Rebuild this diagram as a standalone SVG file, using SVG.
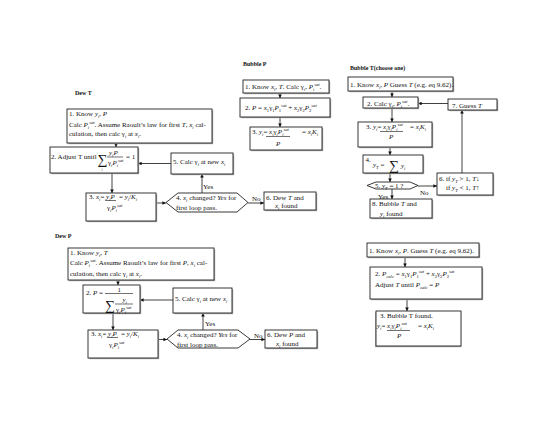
<svg xmlns="http://www.w3.org/2000/svg" width="550" height="425" viewBox="0 0 550 425">
<style>
text{font-family:"Liberation Serif","Times New Roman",serif;font-size:7px;fill:#111}
.ttl{font-weight:bold;font-size:6px}
.i{font-style:italic}
.sb{font-size:4.6px;baseline-shift:-1.5px}
.sp{font-size:4.6px;baseline-shift:2.8px}
.big{font-size:14px}
.box{fill:#fff;stroke:#222;stroke-width:0.9}
.sh{fill:#aaa;stroke:none}
.bar{stroke:#111;stroke-width:0.6}
.c{fill:none;stroke:#111;stroke-width:0.8;marker-end:url(#ah)}
</style>
<defs>
<marker id="ah" viewBox="0 0 6 6" refX="6" refY="3" markerWidth="3.6" markerHeight="3.6" markerUnits="userSpaceOnUse" orient="auto">
<path d="M0,0 L6,3 L0,6 z" fill="#111"/>
</marker>
</defs>
<rect width="550" height="425" fill="#fff"/>

<!-- titles -->
<text class="ttl" x="75" y="95">Dew T</text>
<text class="ttl" x="243" y="66">Bubble P</text>
<text class="ttl" x="350" y="70">Bubble T(choose one)</text>
<text class="ttl" x="55" y="237.5">Dew P</text>

<!-- connectors -->
<g id="connectors">
<path class="c" d="M116,143 V147"/>
<path class="c" d="M171,163.5 H138"/>
<path class="c" d="M112,173 V193"/>
<path class="c" d="M156,203 H166"/>
<path class="c" d="M202,193 V174"/>
<path class="c" d="M248,203 H264"/>
<path class="c" d="M280,93 V98"/>
<path class="c" d="M280,117 V127"/>
<path class="c" d="M392,91 V97"/>
<path class="c" d="M448,103.5 H418"/>
<path class="c" d="M392,108 V122"/>
<path class="c" d="M390,147 V155"/>
<path class="c" d="M390,173 V182"/>
<path class="c" d="M418,186 H437"/>
<path class="c" d="M462,173 V110"/>
<path class="c" d="M392,189 V199"/>
<path class="c" d="M118,280 V285"/>
<path class="c" d="M173,300 H140"/>
<path class="c" d="M113,313 V330"/>
<path class="c" d="M158,339.5 H167"/>
<path class="c" d="M203,330 V313"/>
<path class="c" d="M250,339.5 H265"/>
<path class="c" d="M405,257 V267"/>
<path class="c" d="M407,299 V311"/>
<text x="203" y="188.5">Yes</text>
<text x="252" y="200.5">No</text>
<text x="420" y="194.5">No</text>
<text x="378" y="199">Yes</text>
<text x="205" y="325.5">Yes</text>
<text x="254" y="337.5">No</text>
</g>

<!-- Dew T -->
<g id="dewT1">
<rect class="sh" x="68.2" y="110.2" width="145" height="34"/>
<rect class="box" x="67" y="109" width="145" height="34"/>
<text x="69" y="116">1. Know <tspan class="i">y</tspan><tspan class="sb i">i</tspan>, <tspan class="i">P</tspan></text>
<text x="69" y="126.5">Calc <tspan class="i">P</tspan><tspan class="sb i">i</tspan><tspan class="sp i">sat</tspan>. Assume Raoult’s law for first <tspan class="i">T</tspan>, <tspan class="i">x</tspan><tspan class="sb i">i</tspan> cal-</text>
<text x="69" y="136">culation, then calc γ<tspan class="sb i">i</tspan> at <tspan class="i">x</tspan><tspan class="sb i">i</tspan>.</text>
</g>
<g id="dewT2">
<rect class="sh" x="51.2" y="148.2" width="88" height="26"/>
<rect class="box" x="50" y="147" width="88" height="26"/>
<text x="51" y="158.5">2. Adjust T until</text>
<text class="big" x="97.5" y="164">∑</text>
<text x="101.5" y="170.5" style="font-size:3.5px" class="i">i</text>
<text x="109" y="154.5"><tspan class="i">y</tspan><tspan class="sb i">i</tspan><tspan class="i">P</tspan></text>
<line class="bar" x1="107" y1="157" x2="123" y2="157"/>
<text x="108" y="164.5">γ<tspan class="sb i">i</tspan><tspan class="i">P</tspan><tspan class="sb i">i</tspan><tspan class="sp i">sat</tspan></text>
<text x="126" y="158.5">= 1</text>
</g>
<g id="dewT5">
<rect class="sh" x="172.2" y="154.2" width="62" height="21"/>
<rect class="box" x="171" y="153" width="62" height="21"/>
<text x="173" y="163.5">5.  Calc γ<tspan class="sb i">i</tspan> at new <tspan class="i">x</tspan><tspan class="sb i">i</tspan></text>
</g>
<g id="dewT3">
<rect class="sh" x="87.2" y="194.2" width="70" height="28"/>
<rect class="box" x="86" y="193" width="70" height="28"/>
<text x="89" y="198.5">3. <tspan class="i">x</tspan><tspan class="sb i">i</tspan>= <tspan class="i">y</tspan><tspan class="sb i">i</tspan><tspan class="i">P</tspan></text>
<text x="119" y="198.5">= <tspan class="i">y</tspan><tspan class="sb i">i</tspan>/<tspan class="i">K</tspan><tspan class="sb i">i</tspan></text>
<line class="bar" x1="105" y1="200.5" x2="116" y2="200.5"/>
<text x="107" y="209.5">γ<tspan class="sb i">i</tspan><tspan class="i">P</tspan><tspan class="sb i">i</tspan><tspan class="sp i">sat</tspan></text>
</g>
<g id="dewT4">
<polygon class="box" points="166,202.5 178,193 237,193 248,202.5 237,212 178,212"/>
<text x="176" y="199.5">4. <tspan class="i">x</tspan><tspan class="sb i">i</tspan> changed? <tspan class="i">Yes</tspan> for</text>
<text x="176" y="210">first loop pass.</text>
</g>
<g id="dewT6">
<rect class="sh" x="265.2" y="193.2" width="52" height="18"/>
<rect class="box" x="264" y="192" width="52" height="18"/>
<text x="266" y="199.5">6. Dew <tspan class="i">T</tspan> and</text>
<text x="275" y="207.5"><tspan class="i">x</tspan><tspan class="sb i">i</tspan> found</text>
</g>

<!-- Bubble P -->
<g id="bubP1">
<rect class="sh" x="244.2" y="81.2" width="86" height="13"/>
<rect class="box" x="243" y="80" width="86" height="13"/>
<text x="245" y="89">1. Know <tspan class="i">x</tspan><tspan class="sb i">i</tspan>, <tspan class="i">T</tspan>. Calc γ<tspan class="sb i">i</tspan>, <tspan class="i">P</tspan><tspan class="sb i">i</tspan><tspan class="sp i">sat</tspan>.</text>
</g>
<g id="bubP2">
<rect class="sh" x="241.2" y="99.2" width="90" height="19"/>
<rect class="box" x="240" y="98" width="90" height="19"/>
<text x="245" y="109.5">2. <tspan class="i">P</tspan> = <tspan class="i">x</tspan><tspan class="sb">1</tspan>γ<tspan class="sb">1</tspan><tspan class="i">P</tspan><tspan class="sb">1</tspan><tspan class="sp i">sat</tspan> + <tspan class="i">x</tspan><tspan class="sb">2</tspan>γ<tspan class="sb">2</tspan><tspan class="i">P</tspan><tspan class="sb">2</tspan><tspan class="sp i">sat</tspan></text>
</g>
<g id="bubP3">
<rect class="sh" x="251.2" y="128.2" width="72" height="23"/>
<rect class="box" x="250" y="127" width="72" height="23"/>
<text x="252" y="133.5">3. <tspan class="i">y</tspan><tspan class="sb i">i</tspan>= <tspan class="i">x</tspan><tspan class="sb i">i</tspan>γ<tspan class="sb i">i</tspan><tspan class="i">P</tspan><tspan class="sb i">i</tspan><tspan class="sp i">sat</tspan></text>
<text x="302" y="133.5">= <tspan class="i">x</tspan><tspan class="sb i">i</tspan><tspan class="i">K</tspan><tspan class="sb i">i</tspan></text>
<line class="bar" x1="266" y1="136.5" x2="290" y2="136.5"/>
<text x="276" y="146" class="i">P</text>
</g>

<!-- Bubble T -->
<g id="bubT1">
<rect class="sh" x="349.2" y="78.2" width="105" height="14"/>
<rect class="box" x="348" y="77" width="105" height="14"/>
<text x="350" y="86.5">1. Know <tspan class="i">x</tspan><tspan class="sb i">i</tspan>, <tspan class="i">P</tspan> Guess <tspan class="i">T</tspan> (e.g. eq 9.62).</text>
</g>
<g id="bubT2">
<rect class="sh" x="364.2" y="98.2" width="55" height="11"/>
<rect class="box" x="363" y="97" width="55" height="11"/>
<text x="367" y="105.5">2. Calc γ<tspan class="sb i">i</tspan>, <tspan class="i">P</tspan><tspan class="sb i">i</tspan><tspan class="sp i">sat</tspan>.</text>
</g>
<g id="bubT7">
<rect class="sh" x="449.2" y="100.2" width="49" height="11"/>
<rect class="box" x="448" y="99" width="49" height="11"/>
<text x="452" y="107.5">7. Guess <tspan class="i">T</tspan></text>
</g>
<g id="bubT3">
<rect class="sh" x="359.2" y="123.2" width="74" height="25"/>
<rect class="box" x="358" y="122" width="74" height="25"/>
<text x="366" y="128.5">3. <tspan class="i">y</tspan><tspan class="sb i">i</tspan>= <tspan class="i">x</tspan><tspan class="sb i">i</tspan>γ<tspan class="sb i">i</tspan><tspan class="i">P</tspan><tspan class="sb i">i</tspan><tspan class="sp i">sat</tspan></text>
<text x="410" y="128.5">= <tspan class="i">x</tspan><tspan class="sb i">i</tspan><tspan class="i">K</tspan><tspan class="sb i">i</tspan></text>
<line class="bar" x1="380" y1="131.5" x2="403" y2="131.5"/>
<text x="389" y="139" class="i">P</text>
</g>
<g id="bubT4">
<rect class="sh" x="364.2" y="156.2" width="60" height="18"/>
<rect class="box" x="363" y="155" width="60" height="18"/>
<text x="365.5" y="162">4.</text>
<text x="373" y="167"><tspan class="i">y</tspan><tspan class="sb i">T</tspan> =</text>
<text class="big" x="389" y="169.5">∑</text>
<text x="401" y="167.5"><tspan class="i">y</tspan><tspan class="sb i">i</tspan></text>
</g>
<g id="bubT5">
<polygon class="box" points="367,185.5 376,182 410,182 418,185.5 410,189 376,189"/>
<text x="375" y="187.8">5. <tspan class="i">y</tspan><tspan class="sb i">T</tspan> = 1 ?</text>
</g>
<g id="bubT6">
<rect class="sh" x="438.2" y="174.2" width="56" height="22"/>
<rect class="box" x="437" y="173" width="56" height="22"/>
<text x="439" y="180.5">6. if <tspan class="i">y</tspan><tspan class="sb i">T</tspan> &gt; 1, <tspan class="i">T</tspan>↓</text>
<text x="446" y="190">if <tspan class="i">y</tspan><tspan class="sb i">T</tspan> &lt; 1, <tspan class="i">T</tspan>↑</text>
</g>
<g id="bubT8">
<rect class="sh" x="371.2" y="200.2" width="62" height="19"/>
<rect class="box" x="370" y="199" width="62" height="19"/>
<text x="372" y="205.5">8. Bubble <tspan class="i">T</tspan> and</text>
<text x="380" y="215.5"><tspan class="i">y</tspan><tspan class="sb i">i</tspan> found</text>
</g>

<!-- Dew P -->
<g id="dewP1">
<rect class="sh" x="69.2" y="249.2" width="146" height="32"/>
<rect class="box" x="68" y="248" width="146" height="32"/>
<text x="70" y="254.5">1. Know <tspan class="i">y</tspan><tspan class="sb i">i</tspan>, <tspan class="i">T</tspan></text>
<text x="70" y="265">Calc <tspan class="i">P</tspan><tspan class="sb i">i</tspan><tspan class="sp i">sat</tspan>. Assume Raoult’s law for first <tspan class="i">P</tspan>, <tspan class="i">x</tspan><tspan class="sb i">i</tspan> cal-</text>
<text x="70" y="275.5">culation, then calc γ<tspan class="sb i">i</tspan> at <tspan class="i">x</tspan><tspan class="sb i">i</tspan>.</text>
</g>
<g id="dewP2">
<rect class="sh" x="84.2" y="286.2" width="57" height="28"/>
<rect class="box" x="83" y="285" width="57" height="28"/>
<text x="86" y="294.5">2. <tspan class="i">P</tspan> =</text>
<text x="117.5" y="291.8">1</text>
<line class="bar" x1="105" y1="293.5" x2="133" y2="293.5"/>
<text class="big" x="105" y="310">∑</text>
<text x="109.5" y="312.5" style="font-size:3.3px" class="i">i</text>
<text x="122.5" y="302"><tspan class="i">y</tspan><tspan class="sb i">i</tspan></text>
<line class="bar" x1="115" y1="304" x2="133" y2="304"/>
<text x="116" y="311.5">γ<tspan class="sb i">i</tspan><tspan class="i">P</tspan><tspan class="sb i">i</tspan><tspan class="sp i">sat</tspan></text>
</g>
<g id="dewP5">
<rect class="sh" x="174.2" y="289.2" width="59" height="25"/>
<rect class="box" x="173" y="288" width="59" height="25"/>
<text x="175" y="300.5">5.  Calc γ<tspan class="sb i">i</tspan> at new <tspan class="i">x</tspan><tspan class="sb i">i</tspan></text>
</g>
<g id="dewP3">
<rect class="sh" x="89.2" y="331.2" width="70" height="28"/>
<rect class="box" x="88" y="330" width="70" height="28"/>
<text x="91" y="335.5">3. <tspan class="i">x</tspan><tspan class="sb i">i</tspan>= <tspan class="i">y</tspan><tspan class="sb i">i</tspan><tspan class="i">P</tspan></text>
<text x="121" y="335.5">= <tspan class="i">y</tspan><tspan class="sb i">i</tspan>/<tspan class="i">K</tspan><tspan class="sb i">i</tspan></text>
<line class="bar" x1="107" y1="337.5" x2="118" y2="337.5"/>
<text x="109" y="346.5">γ<tspan class="sb i">i</tspan><tspan class="i">P</tspan><tspan class="sb i">i</tspan><tspan class="sp i">sat</tspan></text>
</g>
<g id="dewP4">
<polygon class="box" points="167,339 178,330 238,330 250,339 238,348 178,348"/>
<text x="177" y="336.5">4. <tspan class="i">x</tspan><tspan class="sb i">i</tspan> changed? <tspan class="i">Yes</tspan> for</text>
<text x="177" y="346.5">first loop pass.</text>
</g>
<g id="dewP6">
<rect class="sh" x="266.2" y="331.2" width="52" height="18"/>
<rect class="box" x="265" y="330" width="52" height="18"/>
<text x="267" y="337">6. Dew <tspan class="i">P</tspan> and</text>
<text x="276" y="345.5"><tspan class="i">x</tspan><tspan class="sb i">i</tspan> found</text>
</g>

<!-- Bubble T (second) -->
<g id="bubTb1">
<rect class="sh" x="368.2" y="244.2" width="112" height="14"/>
<rect class="box" x="367" y="243" width="112" height="14"/>
<text x="369" y="252.5">1. Know <tspan class="i">x</tspan><tspan class="sb i">i</tspan>, <tspan class="i">P</tspan>. Guess <tspan class="i">T</tspan> (e.g. eq 9.62).</text>
</g>
<g id="bubTb2">
<rect class="sh" x="371.2" y="268.2" width="112" height="32"/>
<rect class="box" x="370" y="267" width="112" height="32"/>
<text x="375" y="275.5">2. <tspan class="i">P</tspan><tspan class="sb i">calc</tspan> = <tspan class="i">x</tspan><tspan class="sb">1</tspan>γ<tspan class="sb">1</tspan><tspan class="i">P</tspan><tspan class="sb">1</tspan><tspan class="sp i">sat</tspan> + <tspan class="i">x</tspan><tspan class="sb">2</tspan>γ<tspan class="sb">2</tspan><tspan class="i">P</tspan><tspan class="sb">2</tspan><tspan class="sp i">sat</tspan></text>
<text x="375" y="286.5">Adjust <tspan class="i">T</tspan> until <tspan class="i">P</tspan><tspan class="sb i">calc</tspan> = <tspan class="i">P</tspan></text>
</g>
<g id="bubTb3">
<rect class="sh" x="375.2" y="312.2" width="86" height="35"/>
<rect class="box" x="376" y="311" width="85" height="35"/>
<text x="380" y="317.5">3. Bubble T found.</text>
<text x="377" y="327.5"><tspan class="i">y</tspan><tspan class="sb i">i</tspan>= <tspan class="i">x</tspan><tspan class="sb i">i</tspan>γ<tspan class="sb i">i</tspan><tspan class="i">P</tspan><tspan class="sb i">i</tspan><tspan class="sp i">sat</tspan></text>
<text x="418" y="327.5">= <tspan class="i">x</tspan><tspan class="sb i">i</tspan><tspan class="i">K</tspan><tspan class="sb i">i</tspan></text>
<line class="bar" x1="387" y1="330.5" x2="410" y2="330.5"/>
<text x="397" y="338" class="i">P</text>
</g>
</svg>
